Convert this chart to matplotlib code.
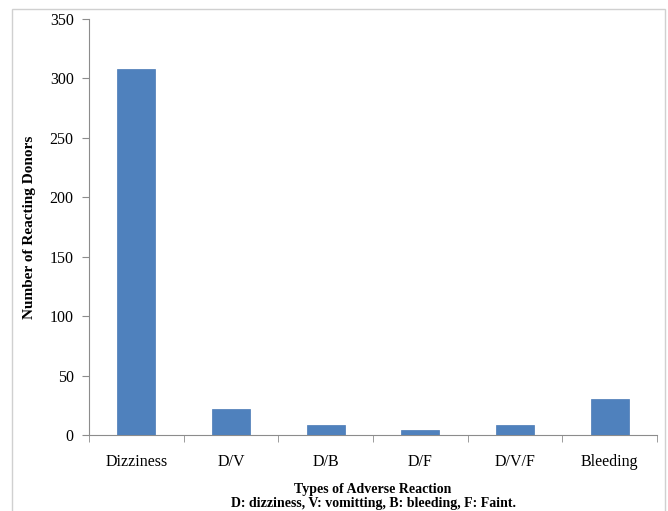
import matplotlib
matplotlib.use("Agg")
import matplotlib.pyplot as plt
from matplotlib.patches import Rectangle

categories = ["Dizziness", "D/V", "D/B", "D/F", "D/V/F", "Bleeding"]
values = [308, 22, 8, 4, 8, 30]
yticks = [0, 50, 100, 150, 200, 250, 300, 350]

plt.rcParams['font.family'] = ['Liberation Serif', 'DejaVu Serif']

fig = plt.figure(figsize=(6.68, 5.11), dpi=100)
fig.patches.append(Rectangle((12/668, -0.01), (665-12)/668, 1 - 9/511 + 0.01,
                             transform=fig.transFigure, fill=False,
                             edgecolor='#d0d0d0', linewidth=1))
ax = fig.add_axes([89/668, 1 - 435/511, (657-89)/668, (435-19)/511])

x = list(range(len(categories)))
ax.bar(x, values, width=0.4, color='#4f81bd', edgecolor='#4a7ab5', linewidth=0.5, zorder=3)
ax.set_xlim(-0.5, len(categories) - 0.5)
ax.set_ylim(0, 350)
ax.set_yticks(yticks)
ax.set_yticklabels([str(t) for t in yticks], fontsize=11.5)
ax.set_xticks(x)
ax.set_xticklabels(categories, fontsize=11.5)
ax.tick_params(axis='x', length=0, pad=14)
ax.set_xticks([i - 0.5 for i in range(len(categories) + 1)], minor=True)
ax.tick_params(axis='x', which='minor', length=5, color='#8c8c8c', direction='out')
ax.tick_params(axis='y', length=5, color='#8c8c8c', direction='out', pad=6)

for s in ['top', 'right']:
    ax.spines[s].set_visible(False)
for s in ['left', 'bottom']:
    ax.spines[s].set_color('#8c8c8c')
    ax.spines[s].set_linewidth(0.8)

ax.set_ylabel("Number of Reacting Donors", fontsize=11, fontweight='bold', labelpad=10)
fig.text((89 + 657) / 2 / 668, 1 - 490 / 511, "Types of Adverse Reaction",
         ha='center', va='center', fontsize=10, fontweight='bold')
fig.text((89 + 657) / 2 / 668, 1 - 503.5 / 511,
         "D: dizziness, V: vomitting, B: bleeding, F: Faint.",
         ha='center', va='center', fontsize=10, fontweight='bold')

fig.savefig("out.png", dpi=100)
